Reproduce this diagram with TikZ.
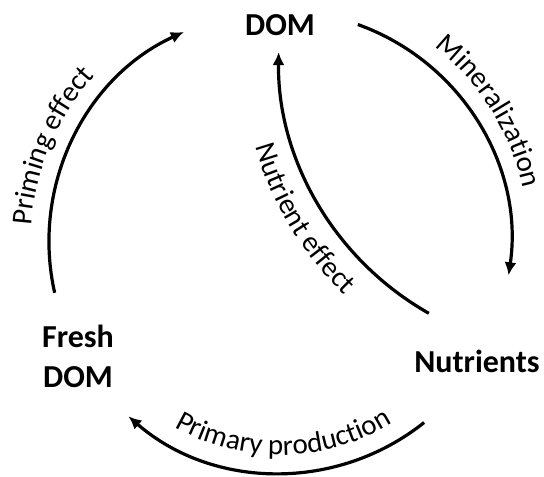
\documentclass[tikz,border=0pt]{standalone}
\usepackage{fontspec}
\setmainfont{Carlito}
\usetikzlibrary{arrows.meta,decorations.text,calc}
\newcommand\lblfont{\fontsize{29}{35}\selectfont}
\begin{document}
\begin{tikzpicture}[x=1pt,y=1pt,
  flow/.style={line width=3.2pt,-{Latex[length=13pt,width=12pt]}},
  pool/.style={font=\fontsize{32}{40}\selectfont\bfseries, inner sep=0pt, align=center},
  lbl/.style={decorate, decoration={text along path, text align=center, text={|\lblfont|#1}}}]
\useasboundingbox (0,0) rectangle (544,477);
\coordinate (C) at (280,235);
\coordinate (D) at (574.6,421.3);
\node[pool] (dom) at (280,452) {DOM};
\node[pool] (fresh) at (78,121) {Fresh\\DOM};
\node[pool] (nut) at (477,116) {Nutrients};
% connectors
\coordinate (pe) at ($(C)+(192.7:231pt)$);
\coordinate (mi) at ($(C)+(70.3:231pt)$);
\coordinate (pp) at ($(C)+(-51.4:231pt)$);
\coordinate (ne) at ($(D)+(240.5:296pt)$);
\draw[flow] (pe) arc[start angle=192.7, end angle=114.6, radius=231pt];
\draw[flow] (mi) arc[start angle=70.3, end angle=-8.3, radius=231pt];
\draw[flow] (pp) arc[start angle=-51.4, end angle=-131, radius=231pt];
\draw[flow] (ne) arc[start angle=240.5, end angle=179.3, radius=296pt];
% labels
\path[lbl={Priming effect}] ($(C)+(187.2:249pt)$) arc[start angle=187.2, end angle=127.2, radius=249pt];
\path[lbl={Mineralization}] ($(C)+(62:249pt)$) arc[start angle=62, end angle=2, radius=249pt];
\path[lbl={Primary production}] ($(C)+(-129:213pt)$) arc[start angle=-129, end angle=-49, radius=213pt];
\path[lbl={Nutrient effect}] ($(D)+(181:332pt)$) arc[start angle=181, end angle=241, radius=332pt];
\end{tikzpicture}
\end{document}
